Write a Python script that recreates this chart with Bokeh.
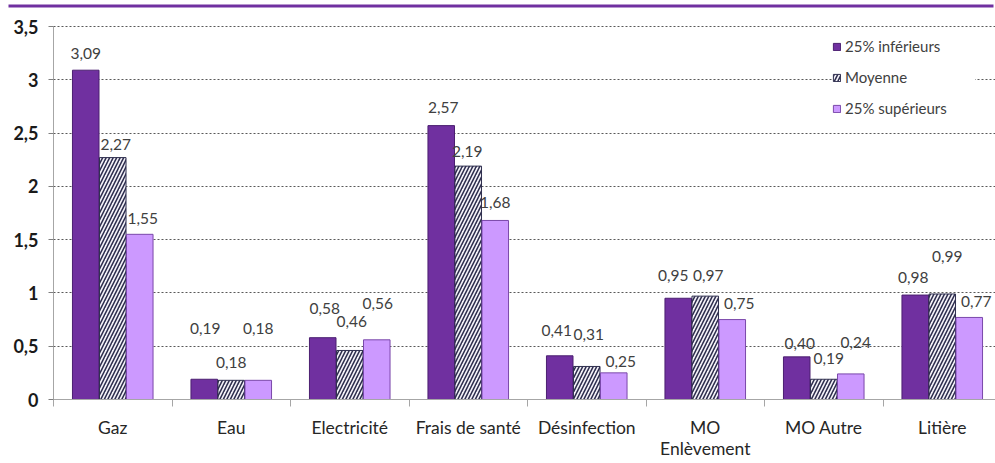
from bokeh.plotting import figure
from bokeh.models import (ColumnDataSource, FixedTicker, Range1d, Legend,
                          LegendItem, BoxAnnotation, Grid)
from bokeh.core.properties import value
from bokeh.embed import file_html
from bokeh.resources import INLINE

# ---------------- data ----------------
categories = ["Gaz", "Eau", "Electricité", "Frais de santé", "Désinfection",
              "MO\nEnlèvement", "MO Autre", "Litière"]
series_names = ["25% inférieurs", "Moyenne", "25% supérieurs"]
inferieurs = [3.09, 0.19, 0.58, 2.57, 0.41, 0.95, 0.40, 0.98]
moyenne = [2.27, 0.18, 0.46, 2.19, 0.31, 0.97, 0.19, 0.99]
superieurs = [1.55, 0.18, 0.56, 1.68, 0.25, 0.75, 0.24, 0.77]
y_ticks = [0, 0.5, 1, 1.5, 2, 2.5, 3, 3.5]
y_tick_labels = ["0", "0,5", "1", "1,5", "2", "2,5", "3", "3,5"]

# ---------------- label placement (pixels) ----------------
label_dx = [
    [0, 1, 2, 2, -3, -5, 3, -2],
    [3, 0, 2, -1, 2, 3, 5, 5],
    [3, 0, 1, 0, 7, 7, 5, 7],
]
label_dy = [
    [-17, -51, -29, -18, -25, -23, -13, -18],
    [-13, -18, -29, -15, -32, -21, -21, -37],
    [-16, -52, -36, -18, -11, -16, -31, -16],
]

FONT = "Lato"
series = [inferieurs, moyenne, superieurs]
shift = [-0.228, 0.0, 0.228]
bar_w = 0.224

W, H = 995, 463
LEFT = 53          # pixel position of the value axis
XPX = 118.5        # pixels per category
BOTTOM = 64        # pixels below the x axis
YPX = 106.57       # pixels per unit
x_start = -LEFT / XPX
x_end = (W - LEFT) / XPX
y_start = -BOTTOM / YPX
y_end = (H - BOTTOM) / YPX

p = figure(width=W, height=H, output_backend="svg", toolbar_location=None,
           x_range=Range1d(x_start, x_end), y_range=Range1d(y_start, y_end),
           min_border_left=0, min_border_right=0, min_border_top=0,
           min_border_bottom=0)
p.outline_line_color = None
p.background_fill_color = "white"
p.border_fill_color = "white"

styles = [
    dict(fill_color="#7030A0", line_color="#4B1F70"),
    dict(fill_color="#F6F4FA", line_color="#2F2F4F", hatch_pattern="/",
         hatch_color="#2F2F4F", hatch_scale=7, hatch_weight=1.6),
    dict(fill_color="#CC99FF", line_color="#7A48AA"),
]

renderers = []
for k, vals in enumerate(series):
    xs = [i + 0.5 + shift[k] for i in range(len(categories))]
    src = ColumnDataSource(dict(
        x=xs, top=vals,
        label=[f"{v:.2f}".replace(".", ",") for v in vals],
        xo=label_dx[k], yo=label_dy[k]))
    r = p.vbar(x="x", top="top", bottom=0, width=bar_w, source=src,
               line_width=1, **styles[k])
    renderers.append(r)
    p.text(x="x", y="top", text="label", x_offset="xo", y_offset="yo",
           source=src, text_align="center", text_baseline="middle",
           text_font=value(FONT), text_font_size="15.5px",
           text_color="#404040")

# ---------------- axes ----------------
centers = [i + 0.5 for i in range(len(categories))]
bounds = [i for i in range(len(categories) + 1)]
xa = p.xaxis[0]
xa.fixed_location = 0
xa.ticker = FixedTicker(ticks=centers, minor_ticks=bounds)
xa.major_label_overrides = {c: lab for c, lab in zip(centers, categories)}
xa.bounds = (0, x_end)
xa.major_tick_line_color = None
xa.major_tick_out = 0
xa.major_tick_in = 0
xa.minor_tick_out = 7
xa.minor_tick_in = 0
xa.minor_tick_line_color = "#A6A6A6"
xa.axis_line_color = "#A6A6A6"
xa.major_label_standoff = 10
xa.major_label_text_font = FONT
xa.major_label_text_font_size = "17.5px"
xa.major_label_text_color = "#262626"
xa.major_label_text_line_height = 1.0

ya = p.yaxis[0]
ya.fixed_location = 0
ya.bounds = (0, 3.5)
ya.ticker = FixedTicker(ticks=y_ticks)
ya.major_label_overrides = {t: lab for t, lab in zip(y_ticks, y_tick_labels)}
ya.minor_tick_line_color = None
ya.major_tick_out = 5
ya.major_tick_in = 0
ya.major_tick_line_color = "#7F7F7F"
ya.axis_line_color = "#A6A6A6"
ya.major_label_standoff = 10
ya.major_label_text_font = FONT
ya.major_label_text_font_size = "18px"
ya.major_label_text_font_style = "bold"
ya.major_label_text_color = "#1A1A1A"

p.xgrid.grid_line_color = None
yg = p.ygrid[0]
yg.ticker = FixedTicker(ticks=y_ticks[1:])
yg.grid_line_color = "#595959"
yg.grid_line_dash = "2 2"
yg.grid_line_width = 1
if "cross_bounds" in Grid.properties():
    yg.cross_bounds = (0, x_end)

# ---------------- legend ----------------
legend = Legend(items=[LegendItem(label=n, renderers=[r])
                       for n, r in zip(series_names, renderers)],
                location=(832, 282 + BOTTOM), orientation="vertical",
                padding=8, spacing=13, margin=0,
                glyph_width=9, glyph_height=9, label_height=18,
                label_width=130, label_standoff=4,
                label_text_font=FONT, label_text_font_size="15px",
                label_text_color="#404040",
                background_fill_color="white", background_fill_alpha=1,
                border_line_color=None)
p.add_layout(legend, "center")

# purple rule across the top of the chart
p.add_layout(BoxAnnotation(left=x_start + 8 / XPX, right=x_end - 2 / XPX,
                           top=(H - BOTTOM - 4) / YPX,
                           bottom=(H - BOTTOM - 7) / YPX,
                           fill_color="#7030A0", fill_alpha=1,
                           line_color=None))

open("out.html", "w").write(file_html(p, INLINE))
